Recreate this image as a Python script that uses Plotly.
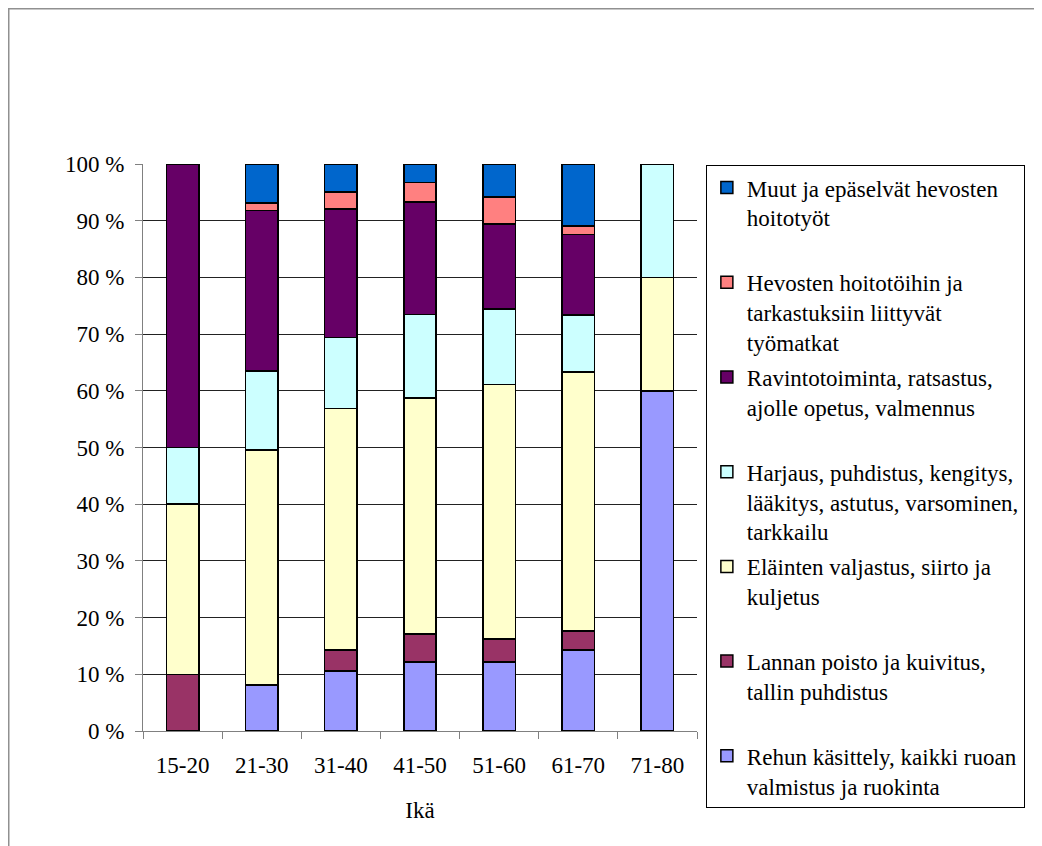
import plotly.graph_objects as go

categories = ["15-20", "21-30", "31-40", "41-50", "51-60", "61-70", "71-80"]

rehu = [0, 8.1, 10.6, 12.2, 12.2, 14.3, 60]
lanna = [10, 0, 3.7, 4.9, 4.0, 3.3, 0]
elainten = [30, 41.5, 42.6, 41.6, 44.9, 45.7, 20]
harjaus = [10, 13.9, 12.5, 14.8, 13.3, 10.1, 20]
ravinto = [50, 28.3, 22.7, 19.8, 15.0, 14.2, 0]
hevosten = [0, 1.3, 3.0, 3.4, 4.8, 1.5, 0]
muut = [0, 6.9, 4.9, 3.3, 5.8, 10.9, 0]

series_names = [
    "Rehun käsittely, kaikki ruoan<br>valmistus ja ruokinta",
    "Lannan poisto ja kuivitus,<br>tallin puhdistus<br> ",
    "Eläinten valjastus, siirto ja<br>kuljetus<br> ",
    "Harjaus, puhdistus, kengitys,<br>lääkitys, astutus, varsominen,<br>tarkkailu",
    "Ravintotoiminta, ratsastus,<br>ajolle opetus, valmennus<br> ",
    "Hevosten hoitotöihin ja<br>tarkastuksiin liittyvät<br>työmatkat",
    "Muut ja epäselvät hevosten<br>hoitotyöt<br> ",
]
series_values = [rehu, lanna, elainten, harjaus, ravinto, hevosten, muut]
series_colors = ["#9999FF", "#993366", "#FFFFCC", "#CCFFFF", "#660066", "#FF8080", "#0066CC"]

y_ticks = list(range(0, 101, 10))
y_ticktext = [f"{v} %" for v in y_ticks]

FONT = "Liberation Serif"

fig = go.Figure()
n = len(series_names)
for i, (name, vals, col) in enumerate(zip(series_names, series_values, series_colors)):
    fig.add_trace(go.Bar(
        x=categories, y=vals, name=name,
        legendgroup=f"g{i}", legendrank=n - i,
        marker=dict(color=col, line=dict(color="black", width=1.5)),
    ))

L, T, PW, PH = 135, 156, 554, 567
W, H = 1042, 846

fig.update_layout(
    width=W, height=H,
    barmode="stack", bargap=0.59,
    paper_bgcolor="white", plot_bgcolor="white",
    font=dict(family=FONT, size=23, color="black"),
    margin=dict(l=L, r=W - L - PW, t=T, b=H - T - PH, autoexpand=False),
    showlegend=True,
    legend=dict(
        x=1.016, y=0.998, xanchor="left", yanchor="top",
        traceorder="grouped", tracegroupgap=2,
        valign="top", maxheight=800,
        font=dict(family=FONT, size=23, color="black"),
        bgcolor="white", bordercolor="black", borderwidth=1,
    ),
    xaxis=dict(
        showline=True, linecolor="#808080", linewidth=1,
        ticks="outside", tickson="boundaries", ticklen=7, tickcolor="#808080",
        showgrid=False,
        title=dict(text="Ikä", font=dict(family=FONT, size=23), standoff=25),
        tickfont=dict(family=FONT, size=23),
        ticklabelstandoff=13,
    ),
    yaxis=dict(
        range=[0, 100], tickmode="array", tickvals=y_ticks, ticktext=y_ticktext,
        showline=True, linecolor="#808080", linewidth=1,
        ticks="outside", ticklen=7, tickcolor="#808080",
        showgrid=True, gridcolor="#222222", gridwidth=1,
        zeroline=False,
        tickfont=dict(family=FONT, size=23),
        ticklabelstandoff=6,
    ),
    shapes=[dict(
        type="rect", xref="paper", yref="paper",
        x0=(0.5 - L) / PW, x1=(1060 - L) / PW,
        y0=(T + PH - 860) / PH, y1=(T + PH - 0.5) / PH,
        line=dict(color="#909090", width=2), fillcolor="rgba(0,0,0,0)",
        layer="below",
    )],
)

fig.write_html("out.html")
